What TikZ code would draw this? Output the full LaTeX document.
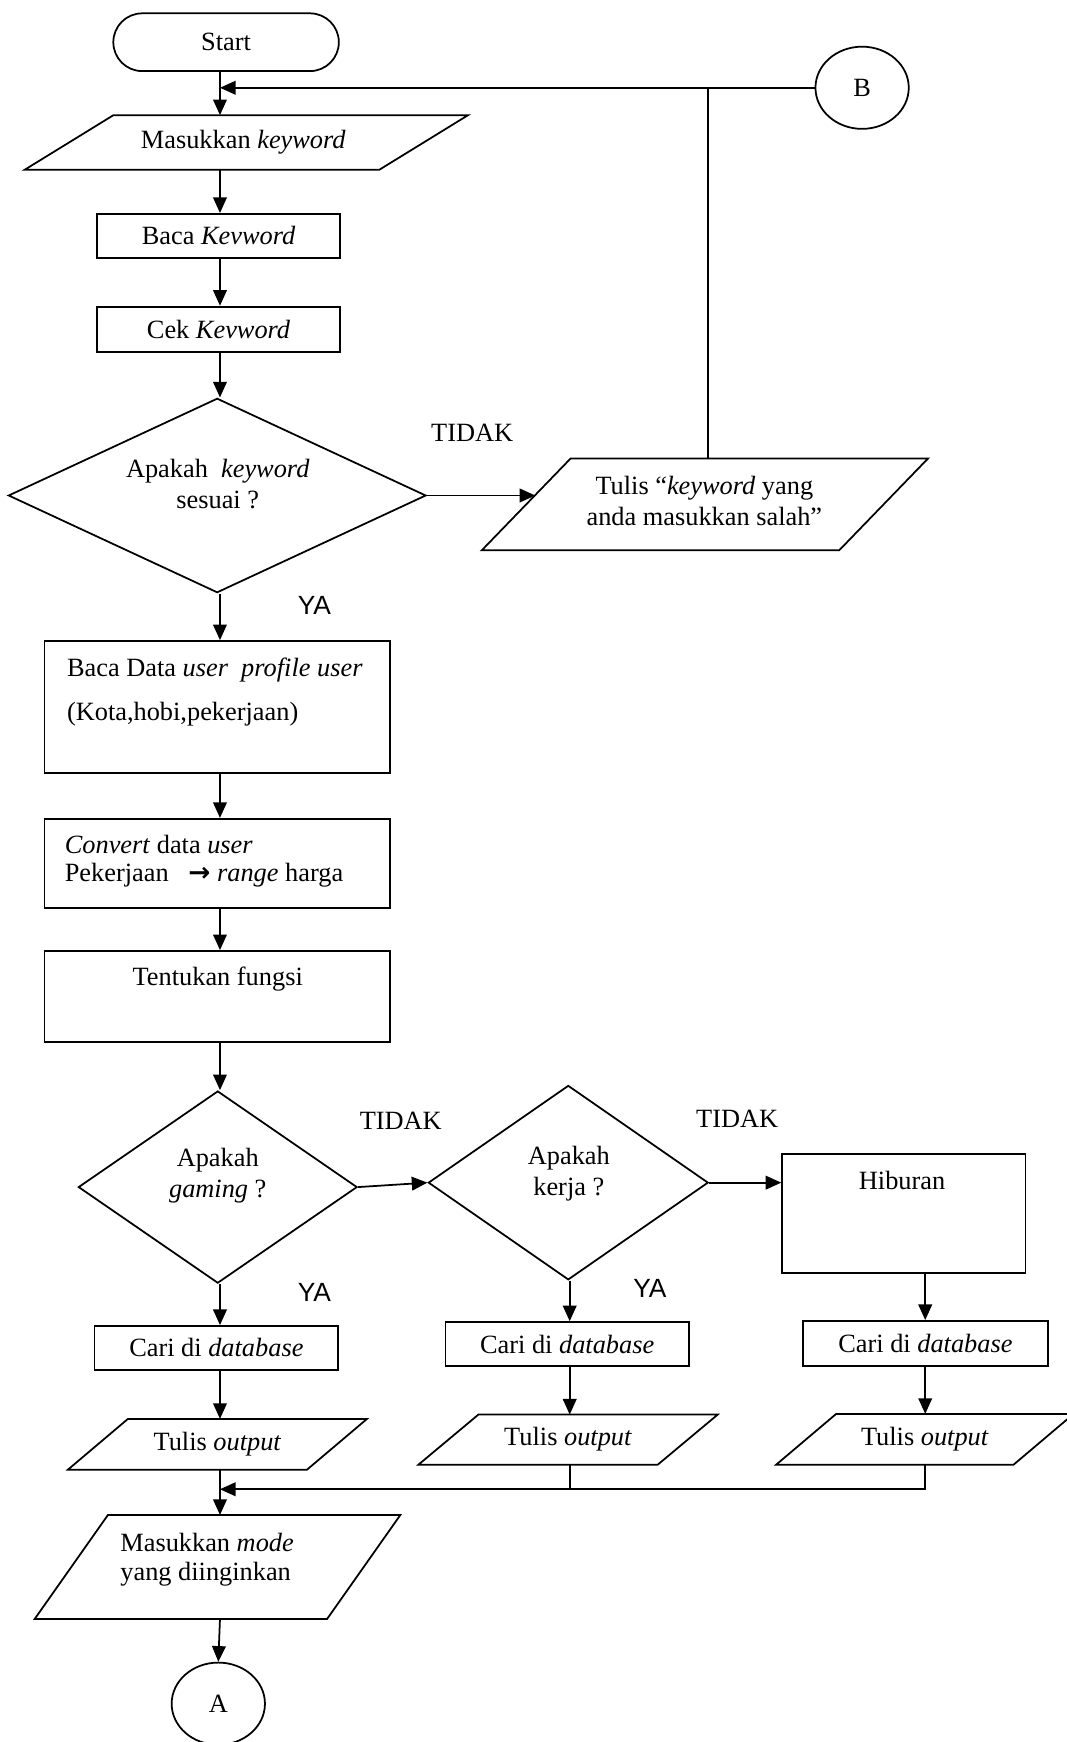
\documentclass[tikz,border=0pt]{standalone}
\usepackage{fontspec}
\setmainfont{Liberation Serif}
\newfontfamily\labelsans{Liberation Sans}
\newfontfamily\arrowsym{DejaVu Sans}
\usetikzlibrary{arrows.meta,shapes.geometric,fit}

\begin{document}
\begin{tikzpicture}[x=0.02cm, y=-0.02cm,
  font=\fontsize{13.5pt}{15.9pt}\selectfont,
  line/.style={line width=0.9pt},
  arr/.style={line width=0.9pt, -{Triangle[length=8pt,width=7pt]}},
  box/.style={draw, line width=0.9pt, inner sep=0pt},
  iobox/.style={inner sep=0pt},
  dec/.style={diamond, draw, line width=0.9pt, inner sep=0pt},
  conn/.style={ellipse, draw, line width=0.9pt, inner sep=0pt,
               minimum width=1.68cm, minimum height=1.48cm},
  lbl/.style={inner sep=0pt},
  yes/.style={inner sep=0pt, font=\labelsans\fontsize{13.5pt}{15.9pt}\selectfont}]

\useasboundingbox (0,0) rectangle (960,1568);

% column positions of the vertical flow lines
\coordinate (colx) at (198,0);
\coordinate (c2x) at (512.8,0);
\coordinate (c3x) at (832.8,0);
\coordinate (jt) at (637,79);
\coordinate (mrg) at (198,1340.5);
\coordinate (tlin) at (481.8,446);

% ---- upper part: keyword input and check
\node[box, rounded corners=0.52cm, fit={(102,12) (305,64)}] (start) {};
\node[lbl] (startt) at (start) {Start};
\node[conn] (B) at (776,79) {B};
\node[iobox, fit={(22.5,104) (421,152.5)}] (in1) {};
\node[lbl] (in1t) at (219,128) {Masukkan \textit{keyword}};
\node[box, fit={(87.5,192.5) (306,232)}] (bk) {};
\node[lbl] (bkt) at (bk) {Baca \textit{Kevword}};
\node[box, fit={(87.5,276) (306,316.5)}] (ck) {};
\node[lbl] (ckt) at (ck) {Cek \textit{Kevword}};
\node[dec, minimum width=7.52cm, minimum height=3.5cm, aspect=2.15] (d1) at (195.5,446) {};
\node[lbl, align=center] (d1t) at (196,436) {Apakah\ \ \textit{keyword}\\sesuai ?};
\node[lbl] (no1) at (425,390) {TIDAK};
\node[iobox, fit={(434,413) (835,495)}] (tl) {};
\node[lbl, align=center] (tlt) at (634,451) {Tulis “\textit{keyword} yang\\anda masukkan salah”};
\node[yes] (ya1) at (283,545) {YA};

% ---- user profile processing
\node[box, fit={(40,577) (351,696)}] (bd) {};
\node[lbl, anchor=west] (bd1) at (60,603) {Baca Data \textit{user}\ \ \textit{profile user}};
\node[lbl, anchor=west] (bd2) at (60,643) {(Kota,hobi,pekerjaan)};
\node[box, fit={(40,737) (351,817)}] (cv) {};
\node[lbl, anchor=west] (cv1) at (58,760) {\textit{Convert} data \textit{user}};
\node[lbl, anchor=west] (cv2) at (58,788) {Pekerjaan\hspace{0.75em}{\arrowsym\bfseries →} \textit{range} harga};
\node[box, fit={(40,856) (351,938)}] (tf) {};
\node[lbl] (tft) at (196,881) {Tentukan fungsi};

% ---- function selection
\node[dec, minimum width=5.02cm, minimum height=3.46cm, aspect=1.45] (dg) at (196,1068.5) {};
\node[lbl, align=center] (dgt) at (196,1058.5) {Apakah\\\textit{gaming} ?};
\node[lbl] (no2) at (360.7,1009) {TIDAK};
\node[dec, minimum width=5.04cm, minimum height=3.5cm, aspect=1.44] (dk) at (511.5,1064.5) {};
\node[lbl, align=center] (dkt) at (512,1056.5) {Apakah\\kerja ?};
\node[lbl] (no3) at (663.5,1007) {TIDAK};
\node[box, fit={(704,1039) (923,1146)}] (hb) {};
\node[lbl] (hbt) at (812,1063) {Hiburan};
\node[yes] (ya2) at (283,1163.6) {YA};
\node[yes] (ya3) at (585,1160) {YA};

\node[box, fit={(85,1193.5) (304.5,1233)}] (c1) {};
\node[lbl] (c1t) at (c1) {Cari di \textit{database}};
\node[box, fit={(401,1190) (620,1229.6)}] (c2) {};
\node[lbl] (c2t) at (c2) {Cari di \textit{database}};
\node[box, fit={(723,1189) (943,1229.6)}] (c3) {};
\node[lbl] (c3t) at (c3) {Cari di \textit{database}};
\node[iobox, fit={(61.5,1277.5) (330,1322.5)}] (o1) {};
\node[lbl] (o1t) at (o1) {Tulis \textit{output}};
\node[iobox, fit={(377,1273.6) (645.7,1318)}] (o2) {};
\node[lbl] (o2t) at (o2) {Tulis \textit{output}};
\node[iobox, fit={(699,1273) (966,1318)}] (o3) {};
\node[lbl] (o3t) at (o3) {Tulis \textit{output}};

\node[iobox, fit={(31.5,1364) (360,1457)}] (md) {};
\node[lbl, anchor=west] (md1) at (108,1388.5) {Masukkan \textit{mode}};
\node[lbl, anchor=west] (md2) at (108,1417) {yang diinginkan};
\node[conn] (A) at (196.5,1533.5) {A};

% input/output parallelograms drawn over their nodes (name/skew)
\foreach \n/\s in {in1/80, tl/80, o1/54, o2/54, o3/54, md/66}
  \draw[line] ([xshift=\s*0.02cm]\n.north west) -- (\n.north east)
     -- ([xshift=-\s*0.02cm]\n.south east) -- (\n.south west) -- cycle;

% ---- connectors
\draw[arr] (start.south -| colx) -- (in1.north -| colx);
\draw[arr] (B.west) -- (B.west -| colx);
\draw[line] (tl.north -| jt) -- (jt);
\draw[arr] (in1.south -| colx) -- (bk.north -| colx);
\draw[arr] (bk.south -| colx) -- (ck.north -| colx);
\draw[arr] (ck.south -| colx) -- (d1.north -| colx);
\draw[arr] (d1.east) -- (tlin);
\draw[arr] (d1.south -| colx) -- (bd.north -| colx);
\draw[arr] (bd.south -| colx) -- (cv.north -| colx);
\draw[arr] (cv.south -| colx) -- (tf.north -| colx);
\draw[arr] (tf.south -| colx) -- (dg.north -| colx);
\draw[arr] (dg.east) -- (dk.west);
\draw[arr] (dk.east) -- (hb.west |- dk.east);
\draw[arr] (dg.south -| colx) -- (c1.north -| colx);
\draw[arr] (dk.south -| c2x) -- (c2.north -| c2x);
\draw[arr] (hb.south -| c3x) -- (c3.north -| c3x);
\draw[arr] (c1.south -| colx) -- (o1.north -| colx);
\draw[arr] (c2.south -| c2x) -- (o2.north -| c2x);
\draw[arr] (c3.south -| c3x) -- (o3.north -| c3x);
\draw[arr] (o1.south -| colx) -- (md.north -| colx);
\draw[arr] (o3.south -| c3x) -- (mrg -| c3x) -- (mrg);
\draw[line] (o2.south -| c2x) -- (mrg -| c2x);
\draw[arr] (md.south -| colx) -- (A.north);
\end{tikzpicture}
\end{document}
